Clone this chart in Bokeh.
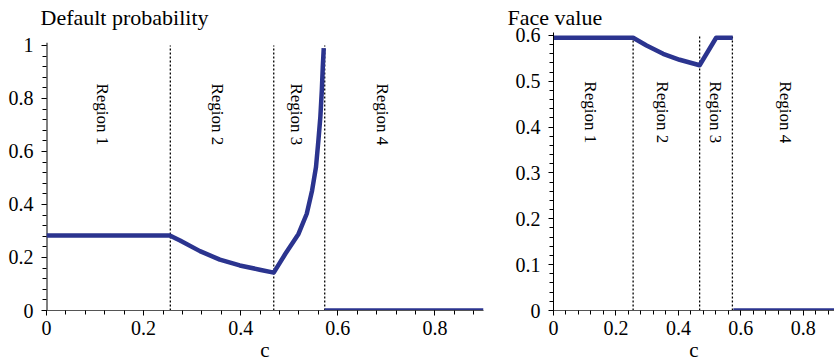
import math
from bokeh.plotting import figure
from bokeh.layouts import row
from bokeh.models import SingleIntervalTicker, FixedTicker, CustomJSTickFormatter, ColumnDataSource
from bokeh.core.properties import value
from bokeh.embed import file_html
from bokeh.resources import INLINE

# ---------------- data ----------------
boundaries = [0.255, 0.468, 0.573]
region_names = ["Region 1", "Region 2", "Region 3", "Region 4"]
x_tick_step = 0.2

# Default probability (regions 1-3, continuous)
dp_c = [0.0, 0.254, 0.275, 0.316, 0.357, 0.398, 0.439, 0.468, 0.492, 0.519,
        0.536, 0.547, 0.555, 0.560, 0.564, 0.567, 0.569, 0.571]
dp_v = [0.283, 0.283, 0.264, 0.224, 0.192, 0.170, 0.154, 0.143, 0.214, 0.289,
        0.365, 0.453, 0.541, 0.642, 0.730, 0.830, 0.918, 0.990]
# Default probability (region 4)
dp4_c = [0.573, 0.9]
dp4_v = [0.0, 0.0]

# Face value (regions 1-3)
fv_c = [0.0, 0.255, 0.298, 0.351, 0.404, 0.468, 0.521, 0.574]
fv_v = [0.595, 0.595, 0.578, 0.560, 0.547, 0.535, 0.595, 0.595]
# Face value (region 4)
fv4_c = [0.576, 0.9]
fv4_v = [0.0, 0.0]

# region-label x positions (per panel)
dp_label_c = [0.115, 0.353, 0.515, 0.692]
fv_label_c = [0.117, 0.350, 0.520, 0.743]

FONT = "'Liberation Serif'"
GFONT = "Liberation Serif"
LINE_COLOR = "#2b348f"
FMT = "return String(Number(tick.toFixed(3)));"

FH = 278  # common frame height (frames are aligned in a row)


def make_panel(title, title_offset, x_end, y_end, y_ticker, y_axis_top,
               y_top_line, label_y, label_c, curve_c, curve_v, r4_c, r4_v,
               fw, bl, br):
    p = figure(frame_width=fw, frame_height=FH,
               x_range=(0, x_end), y_range=(0, y_end),
               output_backend="svg", toolbar_location=None,
               min_border_left=bl, min_border_right=br,
               min_border_top=32, min_border_bottom=52)
    p.outline_line_color = None
    p.grid.grid_line_color = None
    p.background_fill_color = "white"
    p.border_fill_color = "white"

    # title
    p.title.text = title
    p.title.align = "left"
    p.title.offset = title_offset
    p.title.standoff = 5
    p.title.text_font = FONT
    p.title.text_font_size = "22px"
    p.title.text_font_style = "normal"
    p.title.text_color = "black"

    # axes
    p.xaxis.ticker = SingleIntervalTicker(interval=x_tick_step, num_minor_ticks=5)
    p.yaxis.ticker = y_ticker
    p.xaxis.formatter = CustomJSTickFormatter(code=FMT)
    p.yaxis.formatter = CustomJSTickFormatter(code=FMT)
    for ax in (p.xaxis[0], p.yaxis[0]):
        ax.major_label_text_font = FONT
        ax.major_label_text_font_size = "20px"
        ax.major_label_text_color = "black"
        ax.major_tick_in = 0
        ax.major_tick_out = 5
        ax.minor_tick_in = 0
        ax.minor_tick_out = 4
        ax.major_tick_line_color = "black"
        ax.minor_tick_line_color = "black"
    p.xaxis.major_label_standoff = 5
    p.yaxis.major_label_standoff = 8
    p.xaxis.axis_line_color = "#555555"
    p.xaxis.axis_label = "c"
    p.xaxis.axis_label_text_font = FONT
    p.xaxis.axis_label_text_font_size = "21px"
    p.xaxis.axis_label_text_font_style = "normal"
    p.xaxis.axis_label_text_color = "black"
    p.xaxis.axis_label_standoff = 0

    if y_axis_top is None:
        p.yaxis.axis_line_color = "black"
    else:
        # y-axis line that stops at the top of the value range
        p.yaxis.axis_line_color = None
        p.line([0, 0], [0, y_axis_top], line_color="black", line_width=2)

    # region boundaries (dotted)
    for b in boundaries:
        p.line([b, b], [0, y_top_line], line_color="black", line_width=1.3,
               line_dash="2 2")

    # curves
    p.line(curve_c, curve_v, line_color=LINE_COLOR, line_width=4.5,
           line_join="round")
    p.line(r4_c, r4_v, line_color=LINE_COLOR, line_width=4.5)

    # region labels
    src = ColumnDataSource(dict(x=label_c, y=[label_y] * len(label_c), t=region_names))
    p.text(x="x", y="y", text="t", source=src, angle=-math.pi / 2,
           text_align="left", text_baseline="middle",
           text_font=value(GFONT), text_font_size="17px", text_color="black")
    return p


dp_ticker = FixedTicker(ticks=[i * 0.2 for i in range(6)],
                        minor_ticks=[i * 0.04 for i in range(26)])
fv_ticker = SingleIntervalTicker(interval=0.1, num_minor_ticks=5)

p1 = make_panel("Default probability", -6, 0.9, 1.049, dp_ticker, 1.01, 1.0,
                0.857, dp_label_c, dp_c, dp_v, dp4_c, dp4_v,
                fw=437, bl=46, br=12)
p2 = make_panel("Face value", -46, 0.9, 0.6065, fv_ticker, None, 0.6,
                0.5, fv_label_c, fv_c, fv_v, fv4_c, fv4_v,
                fw=281, bl=58, br=0)

layout = row(p1, p2)
open("out.html", "w").write(file_html(layout, INLINE))
